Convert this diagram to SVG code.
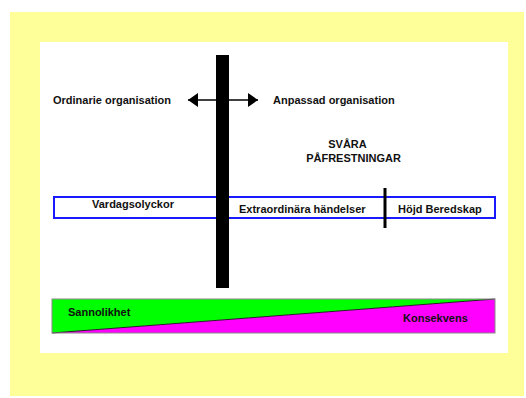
<svg xmlns="http://www.w3.org/2000/svg" width="526" height="398" viewBox="0 0 526 398">
  <style>
    .t { font-family: "Liberation Sans", Arial, sans-serif; font-size: 11px; font-weight: bold; fill: #111; }
  </style>
  <defs>
    <marker id="ah" viewBox="0 0 10 14" refX="10" refY="7" markerWidth="10" markerHeight="14" markerUnits="userSpaceOnUse" orient="auto-start-reverse">
      <path d="M0,0 L10,7 L0,14 Z" fill="#000"/>
    </marker>
  </defs>
  <rect x="10" y="12" width="514" height="384" fill="#ffff99"/>
  <rect x="40" y="42" width="468" height="311" fill="#ffffff"/>

  <g id="probability-bar">
    <polygon points="52,299 495,299 52,333" fill="#00ff00"/>
    <polygon points="495,299 495,333 52,333" fill="#ff00ff"/>
    <line x1="52" y1="333" x2="495" y2="299" stroke="#222" stroke-width="1"/>
    <rect x="52" y="299" width="443" height="34" fill="none" stroke="#888" stroke-width="1"/>
    <text class="t" x="68" y="316">Sannolikhet</text>
    <text class="t" x="403" y="322">Konsekvens</text>
  </g>

  <g id="scale-bar">
    <rect x="54" y="197" width="441" height="21" fill="#ffffff" stroke="#1a1aff" stroke-width="2"/>
    <text class="t" x="92" y="208">Vardagsolyckor</text>
    <text class="t" x="239" y="213">Extraordinära händelser</text>
    <text class="t" x="398" y="213">Höjd Beredskap</text>
  </g>

  <g id="divider">
    <line x1="385" y1="188" x2="385" y2="228" stroke="#000" stroke-width="3"/>
  </g>

  <g id="connectors">
    <line x1="188" y1="100" x2="258" y2="100" stroke="#000" stroke-width="1.5" marker-start="url(#ah)" marker-end="url(#ah)"/>
  </g>

  <g id="main-bar">
    <rect x="216" y="55" width="13" height="233" fill="#000"/>
  </g>

  <g id="labels">
    <text class="t" x="53" y="104">Ordinarie organisation</text>
    <text class="t" x="273" y="104">Anpassad organisation</text>
    <text class="t" x="347.5" y="148" text-anchor="middle">SVÅRA</text>
    <text class="t" x="353.5" y="162" text-anchor="middle">PÅFRESTNINGAR</text>
  </g>
</svg>
